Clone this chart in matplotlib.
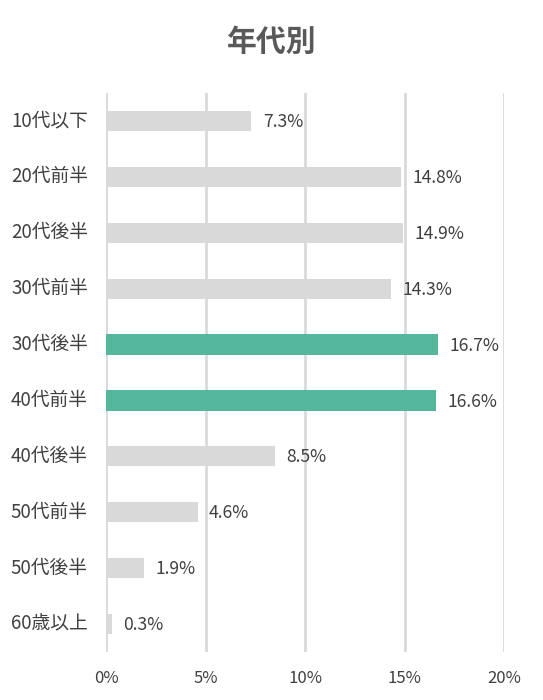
import matplotlib
matplotlib.use("Agg")
import matplotlib.pyplot as plt
import matplotlib.ticker as mticker
from matplotlib.transforms import ScaledTranslation

plt.rcParams['font.family'] = ['Noto Sans CJK JP', 'DejaVu Sans']

# data
categories = ['10代以下', '20代前半', '20代後半', '30代前半', '30代後半',
              '40代前半', '40代後半', '50代前半', '50代後半', '60歳以上']
shares = [7.3, 14.8, 14.9, 14.3, 16.7, 16.6, 8.5, 4.6, 1.9, 0.3]
highlight = ['30代後半', '40代前半']
x_ticks = [0, 5, 10, 15, 20]

GREY = '#d9d9d9'
GREEN = '#52b79d'
TEXT = '#404040'

fig = plt.figure(figsize=(5.43, 7.00), dpi=100)
ax = fig.add_axes([106 / 543, 1 - 652 / 700, (504 - 106) / 543, (652 - 93) / 700])

colors = [GREEN if c in highlight else GREY for c in categories]
ypos = list(range(len(categories)))
ax.barh(ypos, shares, height=0.36, color=colors, zorder=3)

for y, v in zip(ypos, shares):
    ax.text(v + 0.58, y + 0.02, f'{v:.1f}%', va='center', ha='left',
            fontsize=12.6, color=TEXT)

ax.set_xlim(0, 20)
ax.set_ylim(len(categories) - 0.5, -0.5)
ax.set_yticks(ypos)
ax.set_yticklabels(categories, fontsize=13.5, color=TEXT)
ax.set_xticks(x_ticks)
ax.xaxis.set_major_formatter(mticker.FuncFormatter(lambda v, p: f'{v:.0f}%'))
ax.tick_params(axis='x', labelsize=12, labelcolor=TEXT, length=0, pad=13)
ax.tick_params(axis='y', length=0, pad=13)

# nudge the category labels up a touch so they sit level with the bars
shift = ScaledTranslation(0, 0.025, fig.dpi_scale_trans)
for lbl in ax.get_yticklabels():
    lbl.set_transform(lbl.get_transform() + shift)

ax.grid(axis='x', color=GREY, linewidth=2, zorder=0)
for s in ax.spines.values():
    s.set_visible(False)

fig.text(0.5, 1 - 42 / 700, '年代別', ha='center', va='center',
         fontsize=21.5, fontweight='bold', color='#595959')

fig.savefig('out.png', dpi=100)
